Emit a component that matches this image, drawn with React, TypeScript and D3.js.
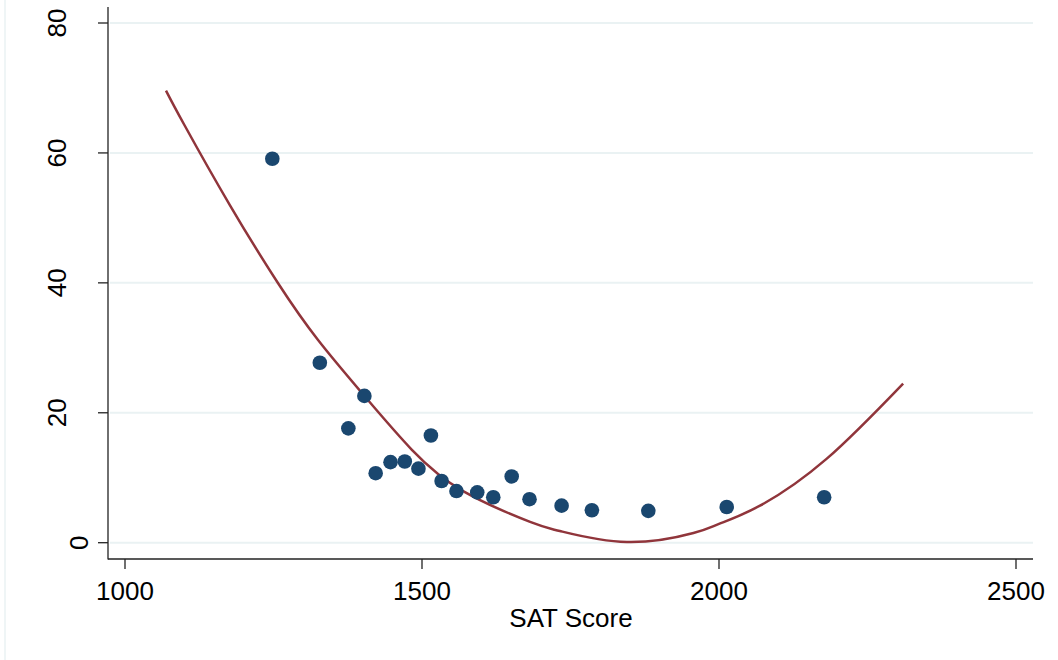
import { useEffect, useRef } from 'react';
import * as d3 from 'd3';

// scatter points (SAT score, value)
const satScores = [1248, 1328, 1403, 1376, 1515, 1422, 1447, 1471, 1494, 1533, 1558, 1593, 1620, 1651, 1681, 1735, 1786, 1881, 2013, 2177];
const values = [59.1, 27.7, 22.6, 17.6, 16.5, 10.7, 12.4, 12.5, 11.4, 9.5, 7.95, 7.75, 7.0, 10.2, 6.7, 5.7, 5.0, 4.9, 5.5, 7.0];

// fitted curve
const fitX = [1069, 1100, 1177, 1258, 1325, 1403, 1483, 1570, 1682, 1732, 1845, 1957, 2000, 2069, 2181, 2310];
const fitY = [69.6, 64.3, 51.9, 39.9, 31.2, 22.6, 14.3, 7.9, 3.2, 1.8, 0.1, 1.5, 2.9, 5.7, 12.9, 24.5];

const xTicks = [1000, 1500, 2000, 2500];
const yTicks = [0, 20, 40, 60, 80];

const FONT = 'Arial, "Liberation Sans", Helvetica, sans-serif';

export default function App() {
  const svgRef = useRef<SVGSVGElement | null>(null);

  useEffect(() => {
    if (!svgRef.current) return;
    const width = 1058;
    const height = 660;

    d3.select(svgRef.current).selectAll('*').remove();
    const svg = d3.select(svgRef.current).attr('width', width).attr('height', height);

    const x = d3.scaleLinear().domain([1000, 2500]).range([125, 1016]);
    const y = d3.scaleLinear().domain([0, 80]).range([542.7, 23]);

    // faint outer frame
    svg.append('line')
      .attr('x1', 5).attr('x2', 5).attr('y1', 0).attr('y2', height)
      .attr('stroke', '#eaf2f3').attr('stroke-width', 1.5);

    // gridlines
    svg.append('g')
      .selectAll('line')
      .data(yTicks)
      .join('line')
      .attr('x1', 110).attr('x2', 1033)
      .attr('y1', (d) => y(d)).attr('y2', (d) => y(d))
      .attr('stroke', '#eaf2f3').attr('stroke-width', 2);

    // axes lines
    svg.append('line')
      .attr('x1', 108).attr('x2', 108).attr('y1', 7).attr('y2', 559.5)
      .attr('stroke', '#222').attr('stroke-width', 1.3);
    svg.append('line')
      .attr('x1', 108).attr('x2', 1033).attr('y1', 559).attr('y2', 559)
      .attr('stroke', '#222').attr('stroke-width', 1.3);

    // y ticks + labels
    const yg = svg.append('g');
    yg.selectAll('line')
      .data(yTicks)
      .join('line')
      .attr('x1', 98).attr('x2', 108)
      .attr('y1', (d) => y(d)).attr('y2', (d) => y(d))
      .attr('stroke', '#222').attr('stroke-width', 1.3);
    yg.selectAll('text')
      .data(yTicks)
      .join('text')
      .attr('transform', (d) => {
        const len = String(d).length;
        const bx = 65.5 + (2 - len) * 22;
        return `translate(${bx},${y(d)}) rotate(-90)`;
      })
      .attr('text-anchor', 'middle')
      .style('font-family', FONT)
      .style('font-size', '26px')
      .attr('fill', '#000')
      .text((d) => d);

    // x ticks + labels
    const xg = svg.append('g');
    xg.selectAll('line')
      .data(xTicks)
      .join('line')
      .attr('x1', (d) => x(d)).attr('x2', (d) => x(d))
      .attr('y1', 559).attr('y2', 569)
      .attr('stroke', '#222').attr('stroke-width', 1.3);
    xg.selectAll('text')
      .data(xTicks)
      .join('text')
      .attr('x', (d) => x(d))
      .attr('y', 600)
      .attr('text-anchor', 'middle')
      .style('font-family', FONT)
      .style('font-size', '26px')
      .attr('fill', '#000')
      .text((d) => d);

    // axis title
    svg.append('text')
      .attr('x', 571)
      .attr('y', 627)
      .attr('text-anchor', 'middle')
      .style('font-family', FONT)
      .style('font-size', '26px')
      .attr('fill', '#000')
      .text('SAT Score');

    // fitted curve
    const line = d3
      .line<number>()
      .x((_, i) => x(fitX[i]))
      .y((d) => y(d))
      .curve(d3.curveNatural);
    svg.append('path')
      .attr('d', line(fitY))
      .attr('fill', 'none')
      .attr('stroke', '#90353b')
      .attr('stroke-width', 2.5);

    // points
    svg.append('g')
      .selectAll('circle')
      .data(values)
      .join('circle')
      .attr('cx', (_, i) => x(satScores[i]))
      .attr('cy', (d) => y(d))
      .attr('r', 7.3)
      .attr('fill', '#1a476f');
  }, []);

  return (
    <div style={{ position: 'absolute', left: 0, top: 0, background: '#fff' }}>
      <svg ref={svgRef} style={{ display: 'block' }} />
    </div>
  );
}
